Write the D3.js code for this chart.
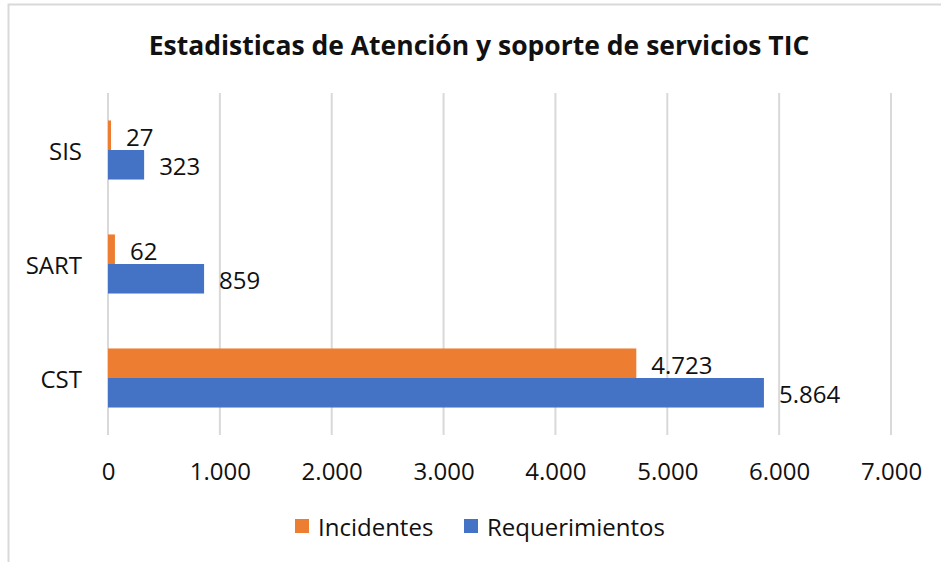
<!DOCTYPE html>
<html>
<head>
<meta charset="utf-8">
<script src="https://cdn.jsdelivr.net/npm/d3@7"></script>
<style>
  body { margin: 0; background: #fff; }
  text { font-family: "Open Sans", sans-serif; fill: #111; }
</style>
</head>
<body>
<div id="chart"></div>
<script>
const categories = ["SIS", "SART", "CST"];
const seriesNames = ["Incidentes", "Requerimientos"];
const incidentes = [27, 62, 4723];
const requerimientos = [323, 859, 5864];
const xTicks = [0, 1000, 2000, 3000, 4000, 5000, 6000, 7000];
const colors = ["#ED7D31", "#4472C4"];

const width = 941;
const height = 562;
const margin = { top: 93, left: 108, bottom: 127, right: 50 };

const locale = d3.formatLocale({ decimal: ",", thousands: ".", grouping: [3], currency: ["", ""] });
const fmt = locale.format(",d");

const data = categories.map((c, i) => ({
  cat: c,
  values: [
    { key: seriesNames[0], value: incidentes[i] },
    { key: seriesNames[1], value: requerimientos[i] }
  ]
}));

const svg = d3.select("#chart").append("svg")
  .attr("width", width).attr("height", height);

// chart area border
svg.append("path")
  .attr("d", `M8.5,${height} V4.5 H${width}`)
  .attr("fill", "none")
  .attr("stroke", "#d9d9d9")
  .attr("stroke-width", 2);

svg.append("text")
  .attr("x", 479).attr("y", 45)
  .attr("text-anchor", "middle")
  .attr("dominant-baseline", "central")
  .style("font-weight", "bold")
  .style("font-size", "26.5px")
  .text("Estadisticas de Atención y soporte de servicios TIC");

const x = d3.scaleLinear().domain([0, 7000]).range([margin.left, 891]);
const y = d3.scaleBand().domain(categories)
  .range([margin.top, 435])
  .paddingInner(0.482).paddingOuter(0.241);
const ySub = d3.scaleBand().domain(seriesNames).range([0, y.bandwidth()]);

// gridlines
svg.append("g").selectAll("line").data(xTicks).join("line")
  .attr("x1", d => x(d)).attr("x2", d => x(d))
  .attr("y1", margin.top).attr("y2", 435)
  .attr("stroke", "#d9d9d9").attr("stroke-width", 2);

// x axis labels
const xAxis = svg.append("g")
  .attr("transform", "translate(0,470)")
  .call(d3.axisBottom(x).tickValues(xTicks).tickFormat(fmt).tickSize(0));
xAxis.select(".domain").remove();
xAxis.selectAll("text").style("font-size", "24px").attr("fill", "#111")
  .attr("y", 0).attr("dy", null).attr("dominant-baseline", "central");

// y axis labels
const yAxis = svg.append("g")
  .attr("transform", "translate(82,0)")
  .call(d3.axisLeft(y).tickSize(0).tickPadding(0));
yAxis.select(".domain").remove();
yAxis.selectAll("text").style("font-size", "24px").attr("fill", "#111")
  .attr("dy", null).attr("dominant-baseline", "central");

const groups = svg.append("g").selectAll("g").data(data).join("g")
  .attr("transform", d => `translate(0,${y(d.cat)})`);

groups.selectAll("rect").data(d => d.values).join("rect")
  .attr("x", x(0))
  .attr("y", d => ySub(d.key))
  .attr("width", d => x(d.value) - x(0))
  .attr("height", ySub.bandwidth())
  .attr("fill", (d, i) => colors[i]);

groups.selectAll("text.lbl").data(d => d.values).join("text")
  .attr("class", "lbl")
  .attr("x", d => x(d.value) + 15)
  .attr("y", d => ySub(d.key) + ySub.bandwidth() / 2 + 1)
  .attr("dominant-baseline", "central")
  .style("font-size", "24px")
  .text(d => fmt(d.value));

// legend
const legend = svg.append("g").attr("transform", "translate(295,519)");
const legendX = [0, 169];
seriesNames.forEach((s, i) => {
  const g = legend.append("g").attr("transform", `translate(${legendX[i]},0)`);
  g.append("rect").attr("width", 14).attr("height", 14).attr("fill", colors[i]);
  g.append("text").attr("x", 23).attr("y", 7)
    .attr("dominant-baseline", "central")
    .style("font-size", "24px")
    .text(s);
});
</script>
</body>
</html>
